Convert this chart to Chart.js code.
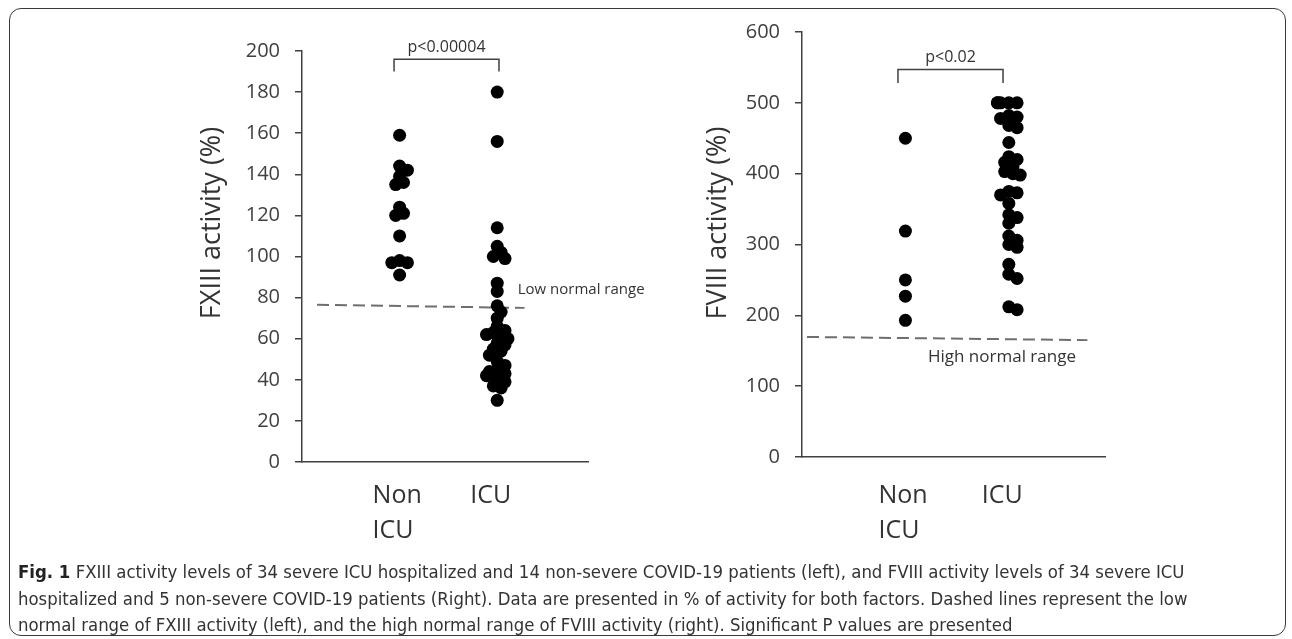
<!DOCTYPE html>
<html>
<head>
<meta charset="utf-8">
<script src="https://cdn.jsdelivr.net/npm/chart.js@4.4.1/dist/chart.umd.min.js"></script>
<style>
    body { margin: 0; width: 1292px; height: 639px; background: #fff; position: relative; overflow: hidden; font-family: "Open Sans", sans-serif; }
    .frame { position: absolute; left: 9px; top: 8px; width: 1277px; height: 628px; border: 1.5px solid #3a3a3a; border-radius: 12px; box-sizing: border-box; }
    .panel { position: absolute; top: 0; }
    #leftChart { left: 150px; }
    #rightChart { left: 650px; }
    .caption { position: absolute; left: 18px; top: 559px; white-space: nowrap; font-family: "Liberation Sans Narrow", "DejaVu Sans Condensed", sans-serif; font-size: 18.4px; line-height: 26.5px; color: #333; }
    .caption b { color: #222; }
</style>
</head>
<body>
<div class="frame"></div>
<canvas id="leftChart" class="panel" width="520" height="560"></canvas>
<canvas id="rightChart" class="panel" width="470" height="560"></canvas>
<div class="caption">
    <b>Fig. 1</b> FXIII activity levels of 34 severe ICU hospitalized and 14 non-severe COVID-19 patients (left), and FVIII activity levels of 34 severe ICU<br>
    hospitalized and 5 non-severe COVID-19 patients (Right). Data are presented in % of activity for both factors. Dashed lines represent the low<br>
    normal range of FXIII activity (left), and the high normal range of FVIII activity (right). Significant P values are presented
</div>

<script>
// Data
const categoryLabels = [['Non', 'ICU'], ['ICU']];

const fxiiiNonIcu = [159, 144, 142, 139, 136, 135, 124, 121, 120, 110, 98, 97, 97, 91];
const fxiiiIcu = [180, 156, 114, 105, 102, 100, 99, 87, 83, 76, 73, 70, 66, 64, 63, 62, 61, 60,
    58, 57, 55, 54, 52, 49, 47, 45, 44, 43, 42, 40, 39, 37, 36, 30];
const fxiiiLowNormal = [76.5, 75];   // dashed line, start and end
const fxiiiTicks = { min: 0, max: 200, step: 20 };

const fviiiNonIcu = [450, 319, 250, 227, 193];
const fviiiIcu = [500, 500, 500, 500, 500, 482, 480, 478, 468, 465, 444, 424, 420, 416, 410, 403, 400,
    398, 375, 373, 370, 358, 342, 338, 330, 312, 306, 300, 296, 272, 258, 252, 212, 208];
const fviiiHighNormal = [169.5, 165];
const fviiiTicks = { min: 0, max: 600, step: 100 };

const INK = '#404040';

// spread overlapping dots sideways (simple beeswarm)
function swarm(values, cat, pxPerUnit) {
    const placed = [];
    const steps = [0, 0.04, -0.04, 0.08, -0.08, 0.11, -0.11];
    return values.map(v => {
        let pick = steps[steps.length - 1];
        for (const s of steps) {
            const ok = placed.every(p => {
                const dx = (p.x - (cat + s)) * 98;
                const dy = (p.y - v) * pxPerUnit;
                return Math.sqrt(dx * dx + dy * dy) >= 6.5;
            });
            if (ok) { pick = s; break; }
        }
        const pt = { x: cat + pick, y: v };
        placed.push(pt);
        return pt;
    });
}

const extras = {
    id: 'extras',
    afterDraw(chart, args, opts) {
        const { ctx, scales: { x, y } } = chart;
        ctx.save();
        ctx.fillStyle = '#333';
        ctx.strokeStyle = INK;

        // y axis title
        ctx.save();
        ctx.translate(opts.titleX, 223);
        ctx.rotate(-Math.PI / 2);
        ctx.font = '27px "Open Sans"';
        ctx.textAlign = 'center';
        ctx.textBaseline = 'middle';
        ctx.fillText(opts.title, 0, 0);
        ctx.restore();

        // category labels, left aligned
        ctx.font = '25px "Open Sans"';
        ctx.textAlign = 'left';
        ctx.textBaseline = 'alphabetic';
        categoryLabels.forEach((lines, i) => {
            const px = x.getPixelForValue(i + 1) - 27;
            lines.forEach((t, j) => ctx.fillText(t, px, 503 + j * 35));
        });

        // significance bracket
        const b = opts.bracket;
        const x1 = x.getPixelForValue(b.x1), x2 = x.getPixelForValue(b.x2);
        const yTop = y.getPixelForValue(b.top), yLeg = y.getPixelForValue(b.leg);
        ctx.lineWidth = 1.5;
        ctx.beginPath();
        ctx.moveTo(x1, yLeg);
        ctx.lineTo(x1, yTop);
        ctx.lineTo(x2, yTop);
        ctx.lineTo(x2, yLeg);
        ctx.stroke();
        ctx.font = '16px "Open Sans"';
        ctx.textAlign = 'center';
        ctx.textBaseline = 'middle';
        ctx.fillText(b.label, (x1 + x2) / 2, yTop - 12);

        // normal range label
        ctx.font = opts.range.size + 'px "Open Sans"';
        ctx.textAlign = 'left';
        ctx.fillText(opts.range.label, x.getPixelForValue(opts.range.x), y.getPixelForValue(opts.range.y));
        ctx.restore();
    }
};

function makeChart(id, cfg) {
    return new Chart(document.getElementById(id), {
        type: 'scatter',
        data: {
            datasets: [
                { data: swarm(cfg.non, 1, cfg.pxPerUnit), backgroundColor: '#000', borderWidth: 0, pointRadius: 6.5 },
                { data: swarm(cfg.icu, 2, cfg.pxPerUnit), backgroundColor: '#000', borderWidth: 0, pointRadius: 6.5 },
                {
                    type: 'line',
                    data: [{ x: cfg.lineX[0], y: cfg.line[0] }, { x: cfg.lineX[1], y: cfg.line[1] }],
                    borderColor: '#6e6e6e', borderWidth: 2, borderDash: [12, 6], pointRadius: 0, fill: false
                }
            ]
        },
        options: {
            responsive: false,
            animation: false,
            layout: { padding: { top: cfg.padTop, right: cfg.padRight, left: 0, bottom: 0 } },
            plugins: {
                legend: { display: false },
                tooltip: { enabled: false },
                extras: cfg.extras
            },
            scales: {
                x: {
                    type: 'linear', min: 0, max: 2.93,
                    ticks: { display: false },
                    grid: { display: false },
                    border: { display: true, color: INK, width: 1.5 },
                    afterFit: s => { s.height = cfg.xHeight; }
                },
                y: {
                    min: cfg.ticks.min, max: cfg.ticks.max,
                    ticks: { stepSize: cfg.ticks.step, color: INK, padding: 15, font: { family: 'Open Sans', size: 20 } },
                    grid: { drawOnChartArea: false, drawTicks: true, tickLength: 7, color: INK, lineWidth: 1.5 },
                    border: { display: true, color: INK, width: 1.5 },
                    afterFit: s => { s.width = 152; }
                }
            }
        },
        plugins: [extras]
    });
}

makeChart('leftChart', {
    non: fxiiiNonIcu, icu: fxiiiIcu, pxPerUnit: 2.055,
    line: fxiiiLowNormal, lineX: [0.154, 2.28],
    ticks: fxiiiTicks, padTop: 51, padRight: 82, xHeight: 98,
    extras: {
        title: 'FXIII activity (%)', titleX: 62,
        bracket: { x1: 0.943, x2: 2.018, top: 196, leg: 190, label: 'p<0.00004' },
        range: { label: 'Low normal range', x: 2.21, y: 84, size: 15 }
    }
});

makeChart('rightChart', {
    non: fviiiNonIcu, icu: fviiiIcu, pxPerUnit: 0.708,
    line: fviiiHighNormal, lineX: [0.048, 2.76],
    ticks: fviiiTicks, padTop: 32, padRight: 15, xHeight: 103,
    extras: {
        title: 'FVIII activity (%)', titleX: 68,
        bracket: { x1: 0.928, x2: 1.944, top: 547, leg: 528, label: 'p<0.02' },
        range: { label: 'High normal range', x: 1.218, y: 141, size: 17 }
    }
});
</script>
</body>
</html>
